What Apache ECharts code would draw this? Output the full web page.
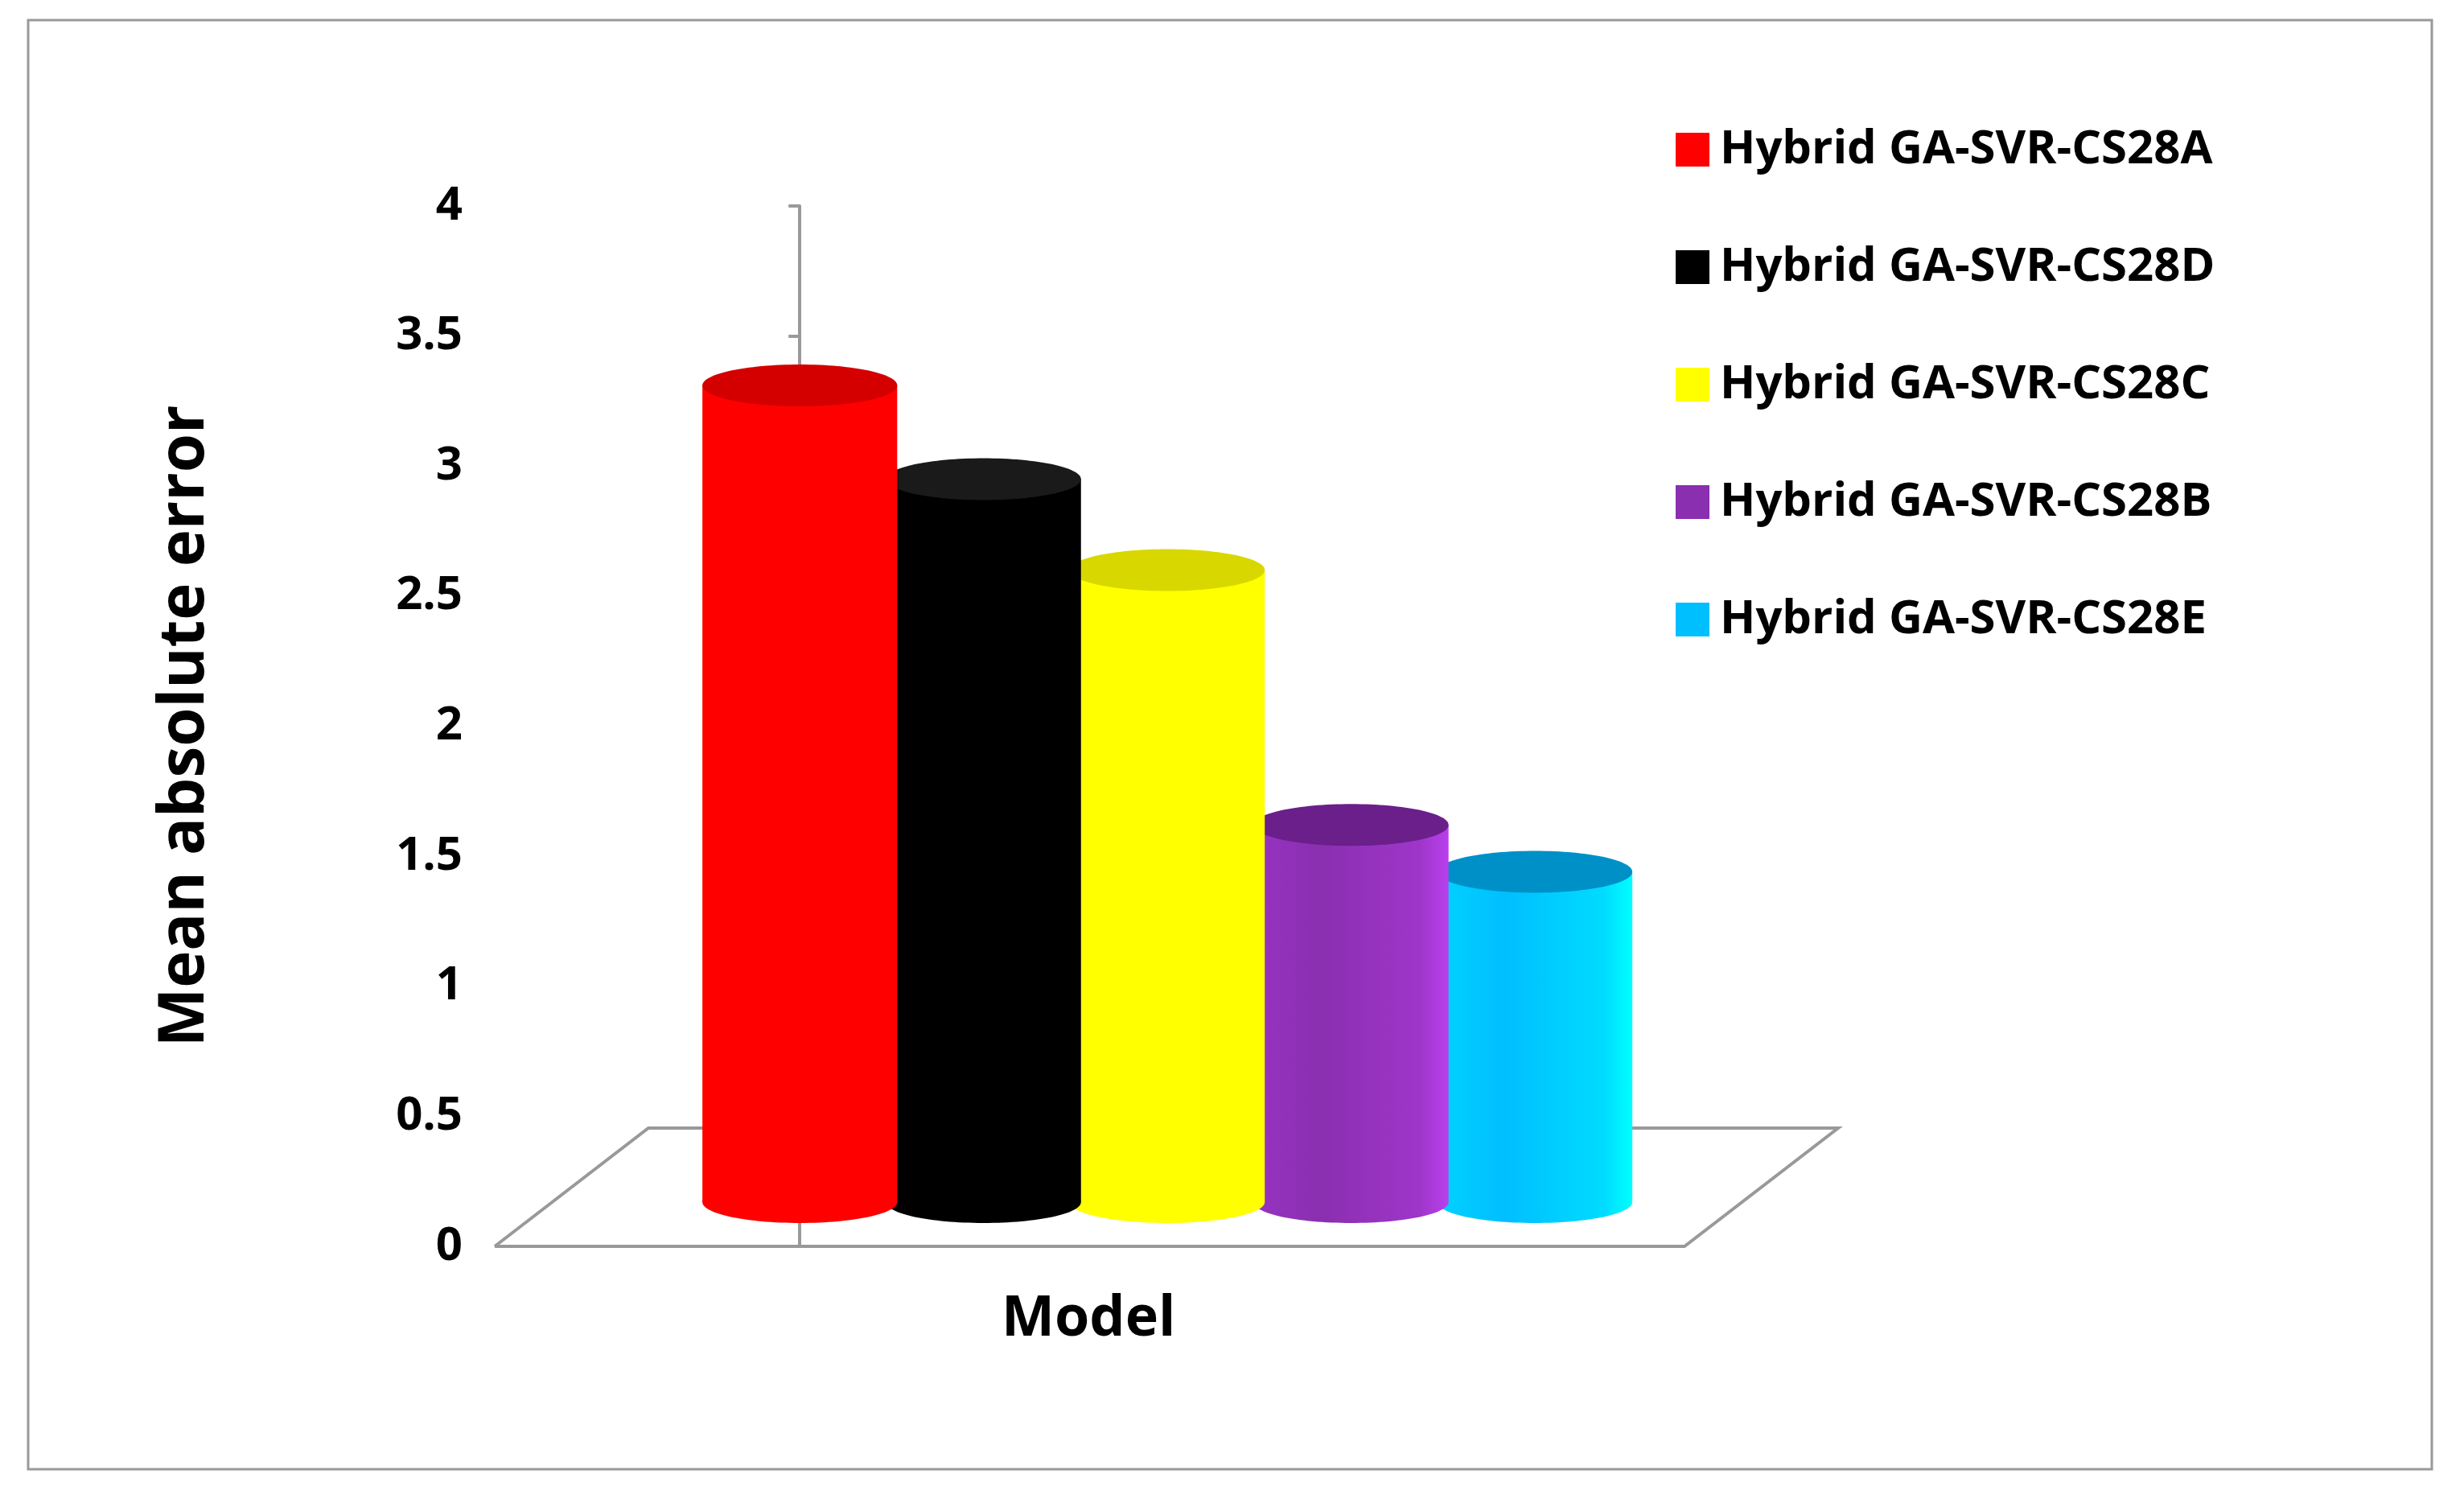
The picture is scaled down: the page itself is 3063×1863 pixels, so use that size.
<!DOCTYPE html>
<html><head><meta charset="utf-8">
<script src="https://cdn.jsdelivr.net/npm/echarts@6/dist/echarts.min.js"></script>
<style>html,body{margin:0;background:#fff}#c{width:3063px;height:1863px}</style>
</head><body><div id="c"></div>
<script>
// data
var models = ['Hybrid GA-SVR-CS28A','Hybrid GA-SVR-CS28D','Hybrid GA-SVR-CS28C','Hybrid GA-SVR-CS28B','Hybrid GA-SVR-CS28E'];
var mae = [3.31, 2.95, 2.6, 1.62, 1.44];
var colors = ['#ff0000','#000000','#ffff00','#8a2fb0','#00bfff'];
var topColors = ['#d40000','#1a1a1a','#d8d800','#6a1f8a','#0090c8'];
var yTicks = ['0','0.5','1','1.5','2','2.5','3','3.5','4'];

var chart = echarts.init(document.getElementById('c'));
var base = 0.17;

function renderCyl(params, api) {
  var i = api.value(0), v = api.value(1);
  var c = api.coord([i, v]);
  var b = api.coord([i, base]);
  var w = api.size([1, 0])[0] * 0.53;
  var ry = 26;
  var x0 = c[0] - w, col = colors[i];
  var grad = new echarts.graphic.LinearGradient(0, 0, 1, 0, [
    {offset: 0, color: echarts.color.lift(col, -0.1)},
    {offset: 0.35, color: col},
    {offset: 0.85, color: echarts.color.lift(col, -0.15)},
    {offset: 1, color: echarts.color.lift(col, -0.35)}
  ]);
  return {type: 'group', children: [
    {type: 'rect', shape: {x: x0, y: c[1], width: 2 * w, height: b[1] - c[1]}, style: {fill: grad}},
    {type: 'ellipse', shape: {cx: c[0], cy: b[1], rx: w, ry: ry}, style: {fill: grad}},
    {type: 'ellipse', shape: {cx: c[0], cy: c[1], rx: w, ry: ry}, style: {fill: topColors[i]}}
  ]};
}

var series = models.map(function (name, i) {
  return {
    name: name, type: 'custom', renderItem: renderCyl,
    itemStyle: {color: colors[i]},
    data: [[i, mae[i]]], z: 10 - i
  };
});

chart.setOption({
  animation: false,
  graphic: [
    {type: 'rect', shape: {x: 35, y: 25, width: 2988, height: 1801}, style: {fill: 'none', stroke: '#999', lineWidth: 3}},
    {type: 'polyline', z: 1, shape: {points: [[615,1549],[2094,1549],[2285,1402],[806,1402],[615,1549]]}, style: {fill: 'none', stroke: '#999', lineWidth: 4}}
  ],
  legend: {
    orient: 'vertical', left: 2078, top: 152, itemGap: 88,
    itemWidth: 42, itemHeight: 42, icon: 'rect',
    textStyle: {fontFamily: 'Open Sans', fontWeight: 'bold', fontSize: 58, color: '#000', padding: [0,0,0,8]},
    data: models
  },
  grid: {left: 615, top: 256, width: 1670, height: 1293},
  xAxis: {type: 'value', min: -1.66, max: 5.65, show: false},
  yAxis: {
    type: 'value', min: 0, max: 4, interval: 0.5,
    axisLine: {show: true, lineStyle: {color: '#999', width: 4}},
    axisTick: {show: true, length: 14, lineStyle: {color: '#999', width: 4}},
    splitLine: {show: false},
    axisLabel: {margin: 40, fontFamily: 'Open Sans', fontWeight: 'bold', fontSize: 58, color: '#000',
      formatter: function (v) { return yTicks[Math.round(v * 2)]; }},
    name: 'Mean absolute error', nameLocation: 'middle', nameGap: 345, nameRotate: 90,
    nameTextStyle: {fontFamily: 'Open Sans', fontWeight: 'bold', fontSize: 78, color: '#000'}
  },
  series: series
});
chart.setOption({graphic: [{}, {}, {type: 'text', left: 1245, top: 1605,
  style: {text: 'Model', fontFamily: 'Open Sans', fontWeight: 'bold', fontSize: 70, fill: '#000'}}]});
</script></body></html>
